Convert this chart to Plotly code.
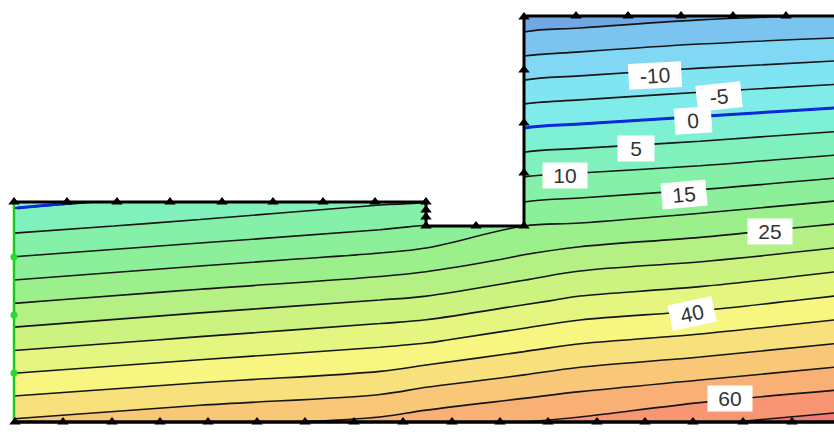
import plotly.graph_objects as go

# ---- field data ----
x_nodes = [0, 18.6, 36.6, 41.2, 51.0, 56.6, 68.6, 82.0]
y_nodes = [0, 4.2, 8.2, 12.2, 16.2, 19.6, 22.0, 26.2, 31.2, 36.2, 40.6]
z_values = [
    [50.7, 53.7, 56.1, 57.6, 60.0, 61.0, 64.3, 67.0],
    [41.5, 44.4, 46.8, 48.4, 51.1, 52.7, 55.0, 57.7],
    [32.7, 35.7, 38.5, 39.3, 42.5, 44.2, 46.3, 49.2],
    [24.3, 27.3, 30.0, 30.8, 34.0, 35.8, 37.7, 40.8],
    [15.7, 18.7, 21.5, 22.6, 25.9, 27.8, 29.6, 32.5],
    [8.5, 11.3, 14.2, 15.2, 20.0, 20.6, 22.7, 25.4],
    [3.8, 6.5, 9.4, 10.0, 15.0, 15.8, 17.6, 20.2],
    [-5.0, -2.2, 0.6, 1.0, 6.6, 7.4, 8.8, 11.0],
    [-15.4, -12.6, -9.8, -9.4, -3.75, -2.9, -1.3, 0.4],
    [-25.8, -23.0, -20.0, -19.8, -14.2, -13.3, -11.7, -10.2],
    [-35.0, -32.0, -29.0, -29.0, -23.3, -22.5, -20.8, -19.8],
]
level_start, level_end, level_step = -20, 65, 5
band_colors = ["#70a8e4", "#7cc4f0", "#80d8f4", "#80e4f2", "#80ecea", "#7ef0d4",
               "#80f0bc", "#84f0a8", "#8cf09a", "#9cf08c", "#b4f084", "#ccf280",
               "#e4f680", "#f6f680", "#f8e07c", "#f8c878", "#f8b074", "#f89674",
               "#f07a76"]

# domain geometry
mask_x = [-2, 41.2, 41.2, 51.0, 51.0, -2]
mask_y = [22.0, 22.0, 19.6, 19.6, 45, 45]
outline_x = [0, 41.2, 41.2, 51.0, 51.0, 82.5]
outline_y = [22.0, 22.0, 19.6, 19.6, 40.6, 40.6]
bottom_x = [0, 82.5]
bottom_y = [0, 0]
left_x = [0, 0]
left_y = [0, 22.0]
phreatic_x = [0.3, 2.5, 5.6]
phreatic_y = [21.4, 21.6, 21.9]

# boundary nodes
tri_x = [0.0, 5.3, 10.3, 15.6, 20.8, 25.9, 30.9, 36.1, 41.2,
         41.2, 41.2, 41.2, 46.2, 51.0,
         51.0, 51.0, 51.0, 51.0,
         56.2, 61.4, 66.7, 71.9, 77.2, 82.4,
         0.1, 4.9, 9.8, 14.6, 19.4, 24.3, 29.1, 34.0, 38.9, 43.8, 48.6,
         53.4, 58.3, 63.1, 67.9, 72.9, 77.8, 82.6]
tri_y = [22.0] * 9 + [21.2, 20.5, 19.6, 19.6, 19.6] + [24.9, 29.9, 35.2, 40.5] \
        + [40.6] * 6 + [0.0] * 18
green_x = [0, 0, 0]
green_y = [16.5, 10.7, 4.9]

# contour labels
label_text = ["-10", "-5", "0", "5", "10", "15", "25", "40", "60"]
label_x = [64.1, 70.5, 67.9, 62.2, 55.1, 67.0, 75.6, 67.8, 71.6]
label_y = [34.7, 32.6, 30.2, 27.4, 24.7, 22.8, 19.1, 10.9, 2.4]
label_angle = [-3, -6, -4, 0, 0, -5, 0, -12, 0]

n = len(band_colors)
colorscale = [[i / (n - 1), c] for i, c in enumerate(band_colors)]

fig = go.Figure()
fig.add_trace(go.Contour(
    x=x_nodes, y=y_nodes, z=z_values,
    contours=dict(start=level_start, end=level_end, size=level_step, coloring="fill"),
    colorscale=colorscale, showscale=False,
    line=dict(color="#151515", width=1.6, smoothing=1.0), hoverinfo="skip"))
fig.add_trace(go.Contour(
    x=x_nodes, y=y_nodes, z=z_values,
    contours=dict(start=0, end=0, size=level_step, coloring="none"),
    showscale=False, line=dict(color="#0a2ad6", width=3, smoothing=1.0),
    hoverinfo="skip"))
# white mask for area outside the section
fig.add_trace(go.Scatter(x=mask_x, y=mask_y, fill="toself", fillcolor="white",
                         mode="none", hoverinfo="skip", showlegend=False))
fig.add_trace(go.Scatter(x=phreatic_x, y=phreatic_y, mode="lines",
                         line=dict(color="#0a2ad6", width=3), showlegend=False))
fig.add_trace(go.Scatter(x=outline_x, y=outline_y, mode="lines",
                         line=dict(color="black", width=3), showlegend=False))
fig.add_trace(go.Scatter(x=bottom_x, y=bottom_y, mode="lines",
                         line=dict(color="black", width=3.5), showlegend=False))
fig.add_trace(go.Scatter(x=left_x, y=left_y, mode="lines",
                         line=dict(color="#1ec81e", width=2.5), showlegend=False))
fig.add_trace(go.Scatter(x=tri_x, y=tri_y, mode="markers", cliponaxis=False,
                         marker=dict(symbol="triangle-up", size=10, color="black"),
                         showlegend=False))
fig.add_trace(go.Scatter(x=green_x, y=green_y, mode="markers", cliponaxis=False,
                         marker=dict(symbol="circle", size=7, color="#22dd22"),
                         showlegend=False))

for t, lx, ly, a in zip(label_text, label_x, label_y, label_angle):
    fig.add_annotation(x=lx, y=ly, text=t, showarrow=False, textangle=a,
                       bgcolor="white", borderpad=2,
                       width=24 + 8 * len(t), height=21,
                       font=dict(family="Arial, Liberation Sans", size=21, color="#333"))

fig.update_layout(
    width=834, height=435,
    margin=dict(l=12, r=0, t=13, b=9),
    paper_bgcolor="white", plot_bgcolor="white",
    xaxis=dict(range=[-0.2, 82.0], visible=False, showgrid=False, zeroline=False),
    yaxis=dict(range=[-0.4, 40.9], visible=False, showgrid=False, zeroline=False),
    showlegend=False,
)
fig.write_html("out.html",
               config={"displayModeBar": False, "staticPlot": True},
               post_script="document.body.style.margin='0';document.body.style.overflow='hidden';")
